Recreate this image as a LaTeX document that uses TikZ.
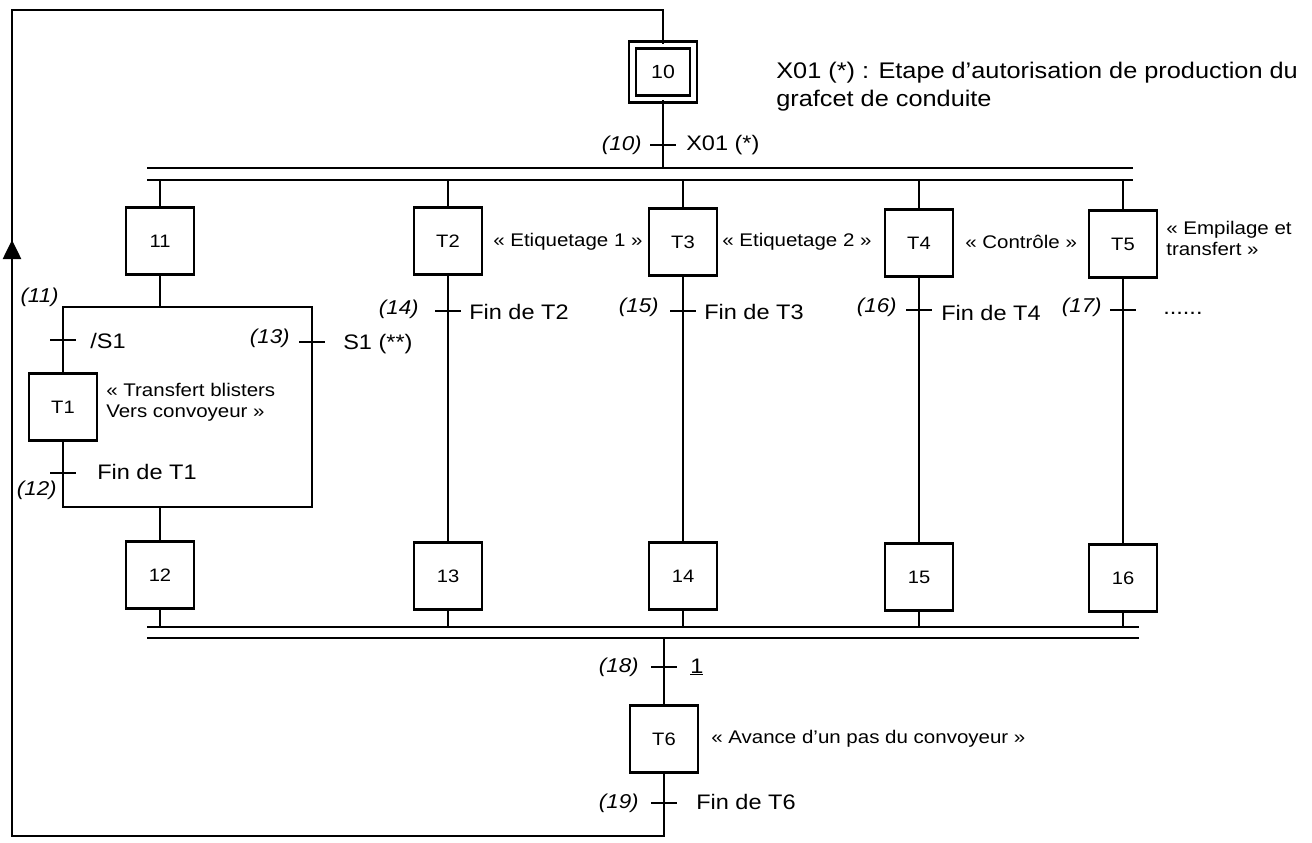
\documentclass[tikz,border=0pt]{standalone}
\usepackage{fontspec}
\setmainfont{Liberation Sans}[FakeStretch=1.12]
\usetikzlibrary{arrows.meta}
\begin{document}
\begin{tikzpicture}[x=1pt,y=-1pt,line width=2.6pt,
  every node/.style={inner sep=0pt},
  stepbox/.style={draw,minimum width=68pt,minimum height=67pt,font=\fontsize{18}{20}\selectfont},
  initbox/.style={draw,double,double distance=4.5pt,minimum width=61pt,minimum height=54pt,font=\fontsize{19}{21}\selectfont},
  cond/.style={anchor=west,font=\fontsize{21}{23}\selectfont},
  tnum/.style={anchor=east,font=\fontsize{20}{22}\selectfont\itshape},
  note/.style={anchor=west,align=left,font=\fontsize{18.3}{21}\selectfont},
  head/.style={anchor=west,align=left,font=\fontsize{22.6}{28}\selectfont},
]
\useasboundingbox (0,0) rectangle (1312,843);

% steps
\node[initbox] (s10) at (663,72) {10};
\node[stepbox] (s11) at (160,241) {11};
\node[stepbox] (t2) at (448,241) {T2};
\node[stepbox] (t3) at (683,242) {T3};
\node[stepbox] (t4) at (919,243) {T4};
\node[stepbox] (t5) at (1123,244) {T5};
\node[stepbox] (t1) at (63,407) {T1};
\node[stepbox] (s12) at (160,575) {12};
\node[stepbox] (s13) at (448,576) {13};
\node[stepbox] (s14) at (683,576) {14};
\node[stepbox] (s15) at (919,577) {15};
\node[stepbox] (s16) at (1123,578) {16};
\node[stepbox] (t6) at (664,739) {T6};

% bars
\coordinate (tb1) at (147,168); \coordinate (tb1e) at (1133,168);
\coordinate (tb2) at (147,180); \coordinate (tb2e) at (1133,180);
\coordinate (bb1) at (147,627); \coordinate (bb1e) at (1139,627);
\coordinate (bb2) at (147,638); \coordinate (bb2e) at (1139,638);
\draw (tb1) -- (tb1e);
\draw (tb2) -- (tb2e);
\draw (bb1) -- (bb1e);
\draw (bb2) -- (bb2e);

% top links
\draw (s10.south) -- (s10.south |- tb1);
\foreach \s in {s11,t2,t3,t4,t5}{\draw (\s.north) -- (\s.north |- tb2);}
% columns
\draw (t2.south) -- (s13.north);
\draw (t3.south) -- (s14.north);
\draw (t4.south) -- (s15.north);
\draw (t5.south) -- (s16.north);
\foreach \s in {s12,s13,s14,s15,s16}{\draw (\s.south) -- (\s.south |- bb1);}
\draw (t6.north |- bb2) -- (t6.north);

% big rectangle (step 11 choice)
\coordinate (rTL) at (63,307); \coordinate (rTR) at (312,307);
\coordinate (rBL) at (63,507); \coordinate (rBR) at (312,507);
\draw (s11.south) -- (s11.south |- rTL);
\draw (t1.north) -- (rTL) -- (rTR) -- (rBR) -- (rBL) -- (t1.south);
\draw (s11.south |- rBL) -- (s12.north);

% loop back
\coordinate (L1) at (12,836); \coordinate (L2) at (12,10);
\draw (t6.south) -- (t6.south |- L1) -- (L1) -- (L2) -- (L2 -| s10.north) -- (s10.north);
\coordinate (arrS) at (12,280); \coordinate (arrT) at (12,240);
\draw[-{Triangle[length=19pt,width=18pt]}] (arrS) -- (arrT);

% transitions
\coordinate (c10) at (663,145);
\coordinate (c11) at (63,340);
\coordinate (c12) at (63,473);
\coordinate (c13) at (312,342);
\coordinate (c14) at (448,311);
\coordinate (c15) at (683,311);
\coordinate (c16) at (919,310);
\coordinate (c17) at (1123,310);
\coordinate (c18) at (664,667);
\coordinate (c19) at (664,803);
\foreach \c in {c10,c11,c12,c13,c14,c15,c16,c17,c18,c19}{\draw ([xshift=-13]\c) -- ([xshift=13]\c);}

% transition numbers
\node[tnum] (n10) at (643,145) {(10)};
\node[tnum] (n11) at (60,297) {(11)};
\node[tnum] (n12) at (58,490) {(12)};
\node[tnum] (n13) at (291,338) {(13)};
\node[tnum] (n14) at (420,309) {(14)};
\node[tnum] (n15) at (660,307) {(15)};
\node[tnum] (n16) at (898,307) {(16)};
\node[tnum] (n17) at (1103,307) {(17)};
\node[tnum] (n18) at (640,667) {(18)};
\node[tnum] (n19) at (640,803) {(19)};

% receptivities
\node[cond] (r10) at (685,145) {X01 (*)};
\node[cond] (r11) at (89,341) {/S1};
\node[cond] (r13) at (342,344) {S1 (**)};
\node[cond] (r12) at (96,472) {Fin de T1};
\node[cond] (r14) at (468,312) {Fin de T2};
\node[cond] (r15) at (703,312) {Fin de T3};
\node[cond] (r16) at (940,313) {Fin de T4};
\node[cond] (r17) at (1162,313) {......};
\node[cond] (r18) at (689,667) {\underline{1}};
\node[cond] (r19) at (695,802) {Fin de T6};

% actions / notes
\node[note,text depth=0pt] (a1) at (105,400) {« Transfert blisters\\Vers convoyeur »};
\node[note] (a2) at (492,242) {« Etiquetage 1 »};
\node[note] (a3) at (721,242) {« Etiquetage 2 »};
\node[note] (a4) at (964,242) {« Contrôle »};
\node[note] (a5) at (1165,238) {« Empilage et\\transfert »};
\node[note] (a6) at (710,739) {« Avance d'un pas du convoyeur »};
\node[head] (h) at (775,87) {X01 (*) : Etape d'autorisation de production du\\grafcet de conduite};
\end{tikzpicture}
\end{document}
